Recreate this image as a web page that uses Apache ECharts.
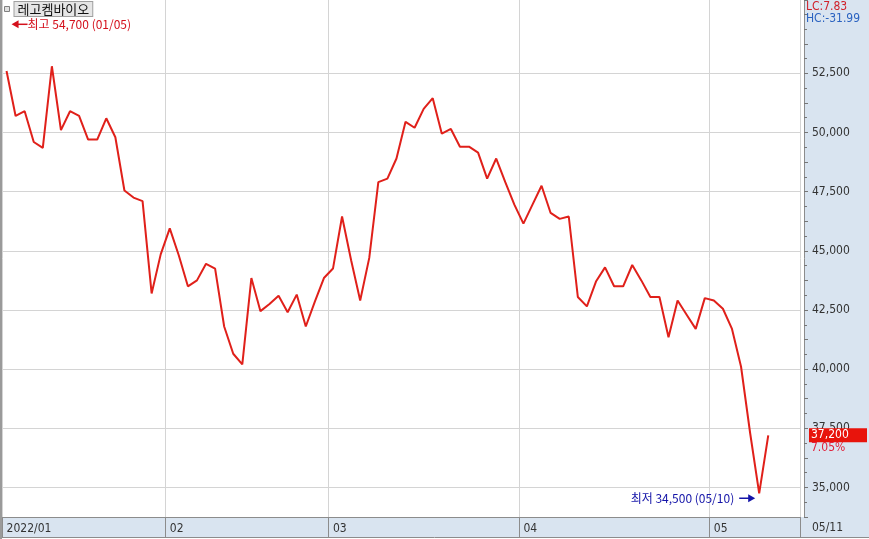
<!DOCTYPE html>
<html><head><meta charset="utf-8">
<script src="https://cdn.jsdelivr.net/npm/echarts@6/dist/echarts.min.js"></script>
<style>html,body{margin:0;padding:0;background:#fff}#c{width:869px;height:539px}</style>
</head><body><div id="c"></div>
<script>
const seriesName = '레고켐바이오';
const year = '2022';
const dates = [
 '01/05','01/06','01/07','01/10','01/11','01/12','01/13','01/14','01/17','01/18','01/19','01/20','01/21','01/24','01/25','01/26','01/27','01/28',
 '02/03','02/04','02/07','02/08','02/09','02/10','02/11','02/14','02/15','02/16','02/17','02/18','02/21','02/22','02/23','02/24','02/25','02/28',
 '03/02','03/03','03/04','03/07','03/08','03/10','03/11','03/14','03/15','03/16','03/17','03/18','03/21','03/22','03/23','03/24','03/25','03/28','03/29','03/30','03/31',
 '04/01','04/04','04/05','04/06','04/07','04/08','04/11','04/12','04/13','04/14','04/15','04/18','04/19','04/20','04/21','04/22','04/25','04/26','04/27','04/28','04/29',
 '05/02','05/03','05/04','05/06','05/09','05/10','05/11'
];
const closes = [
 52600,50700,50900,49600,49350,52800,50100,50900,50700,49700,49700,50600,49800,47550,47250,47100,43200,44850,
 45950,44800,43500,43750,44450,44250,41800,40650,40200,43850,42450,42750,43100,42400,43150,41800,42850,43850,
 44250,46450,44600,42900,44700,47900,48050,48900,50450,50200,51000,51450,49950,50150,49400,49400,49150,48050,48900,47900,46950,
 46150,46950,47750,46600,46350,46450,43050,42650,43700,44300,43500,43500,44400,43750,43050,43050,41350,42900,42300,41700,
 43000,42900,42550,41700,40100,37300,34750,37200
];
const yTickValues = [35000, 37500, 40000, 42500, 45000, 47500, 50000, 52500];
const padSlots = 3;
const yMin = 33750, yMax = 55600, yStep = 1250;
const highValue = 54700, highDate = '01/05';
const lowValue = 34500, lowDate = '05/10';

const fmt = v => String(v).replace(/\B(?=(\d{3})+(?!\d))/g, ',');
const NUM = "'Liberation Sans Narrow','DejaVu Sans Condensed','Liberation Sans',sans-serif";
const KR = "'Noto Sans CJK KR','Noto Sans',sans-serif";

const cats = dates.concat(Array.from({length: padSlots}, (_, k) => 'pad' + k));
const monthStart = new Set();
dates.forEach((d, i) => { if (i === 0 || d.slice(0, 2) !== dates[i - 1].slice(0, 2)) monthStart.add(i); });
const isMS = (i) => monthStart.has(i);

const chart = echarts.init(document.getElementById('c'));
chart.setOption({
  animation: false,
  backgroundColor: '#fff',
  grid: {left: 2, top: 0, width: 798, height: 517},
  legend: {
    left: 4, top: 1, padding: 0, itemWidth: 5, itemHeight: 5, icon: 'rect',
    itemStyle: {color: '#e0e0e0', borderColor: '#808080', borderWidth: 1},
    textStyle: {fontFamily: KR, fontSize: 13, color: '#111', backgroundColor: '#e6e6e6',
      borderColor: '#a0a0a0', borderWidth: 1, padding: [1, 3, 0, 3]},
    data: [seriesName]
  },
  xAxis: {
    type: 'category', data: cats, boundaryGap: true,
    axisLine: {show: true, lineStyle: {color: '#8c8c8c'}},
    axisTick: {show: true, length: 20, interval: isMS, lineStyle: {color: '#8c8c8c'}},
    splitLine: {show: true, interval: isMS, lineStyle: {color: '#d4d4d4'}},
    axisLabel: {
      interval: isMS, align: 'left', margin: 6, color: '#333', fontSize: 12, fontFamily: NUM,
      formatter: (v, i) => i === 0 ? year + '/' + v.slice(0, 2) : v.slice(0, 2)
    }
  },
  yAxis: {
    type: 'value', position: 'right', offset: 4, min: yMin, max: yMax, interval: yStep,
    axisLine: {show: true, lineStyle: {color: '#8c8c8c'}},
    axisTick: {show: true, length: 4, lineStyle: {color: '#777'}},
    minorTick: {show: true, splitNumber: 2, length: 3, lineStyle: {color: '#777'}},
    splitLine: {show: false},
    axisLabel: {margin: 8, color: '#333', fontSize: 12, fontFamily: NUM,
      formatter: v => (yTickValues.indexOf(v) >= 0 ? fmt(v) : '')}
  },
  series: [{
    name: 'grid', type: 'line', data: [], silent: true, z: 1,
    markLine: {silent: true, symbol: 'none', animation: false, label: {show: false},
      lineStyle: {color: '#d4d4d4', type: 'solid', width: 1},
      emphasis: {disabled: true},
      data: yTickValues.map(v => ({yAxis: v}))}
  }, {
    name: seriesName, type: 'line', data: closes, symbol: 'none',
    lineStyle: {color: '#e0201a', width: 2}, itemStyle: {color: '#e0201a'}, z: 5
  }]
});

const last = closes[closes.length - 1];
const prev = closes[closes.length - 2];
const lowIdx = closes.indexOf(Math.min.apply(null, closes));
const pHigh = chart.convertToPixel({gridIndex: 0}, [0, highValue]);
const pLow = chart.convertToPixel({gridIndex: 0}, [lowIdx, lowValue]);
const pLast = chart.convertToPixel({gridIndex: 0}, [closes.length - 1, last]);
const gridRight = 2 + 798 + 4;
const LC = ((last / lowValue - 1) * 100).toFixed(2);
const HC = ((last / highValue - 1) * 100).toFixed(2);
const CHG = ((last / prev - 1) * 100).toFixed(2);
const red = '#d4101c', blue = '#1414a8';
const hy = pHigh[1] + 3, ly = pLow[1] - 1, hx = pHigh[0] + 4, lx = pLow[0] - 4;

chart.setOption({
  graphic: [
    {type: 'rect', z: -10, silent: true, shape: {x: gridRight, y: 0, width: 869 - gridRight, height: 537}, style: {fill: '#d9e4f0'}},
    {type: 'rect', z: -10, silent: true, shape: {x: 0, y: 517, width: 869, height: 20}, style: {fill: '#d9e4f0'}},
    {type: 'line', z: 1, silent: true, shape: {x1: 0, y1: 537.5, x2: 869, y2: 537.5}, style: {stroke: '#8c8c8c', lineWidth: 1}},
    {type: 'rect', z: 10, silent: true, shape: {x: 0, y: 0, width: 2, height: 539}, style: {fill: '#9a9a9a'}},
    {type: 'polygon', z: 10, silent: true, shape: {points: [[hx + 1, hy], [hx + 8, hy - 4], [hx + 8, hy + 4]]}, style: {fill: red}},
    {type: 'line', z: 10, silent: true, shape: {x1: hx + 7, y1: hy, x2: hx + 17, y2: hy}, style: {stroke: red, lineWidth: 1.5}},
    {type: 'text', z: 10, silent: true, x: hx + 17, y: hy, style: {text: '최고 ' + fmt(highValue) + ' (' + highDate + ')', fill: red, font: '12px ' + KR, textVerticalAlign: 'middle', verticalAlign: 'middle'}},
    {type: 'polygon', z: 10, silent: true, shape: {points: [[lx, ly], [lx - 7, ly - 4], [lx - 7, ly + 4]]}, style: {fill: blue}},
    {type: 'line', z: 10, silent: true, shape: {x1: lx - 16, y1: ly, x2: lx - 6, y2: ly}, style: {stroke: blue, lineWidth: 1.5}},
    {type: 'text', z: 10, silent: true, x: lx - 21, y: ly, style: {text: '최저 ' + fmt(lowValue) + ' (' + lowDate + ')', fill: blue, font: '12px ' + KR, align: 'right', textAlign: 'right', verticalAlign: 'middle', textVerticalAlign: 'middle'}},
    {type: 'text', z: 10, silent: true, x: 806, y: 1, style: {text: 'LC:' + LC, fill: '#d0202a', font: '12px ' + NUM}},
    {type: 'text', z: 10, silent: true, x: 806, y: 13, style: {text: 'HC:' + HC, fill: '#2a62c0', font: '12px ' + NUM}},
    {type: 'rect', z: 10, silent: true, shape: {x: 809, y: pLast[1] - 7, width: 58, height: 14}, style: {fill: '#e8140c'}},
    {type: 'text', z: 11, silent: true, x: 811, y: pLast[1], style: {text: fmt(last), fill: '#fff', font: '12px ' + NUM, verticalAlign: 'middle', textVerticalAlign: 'middle'}},
    {type: 'text', z: 11, silent: true, x: 811, y: pLast[1] + 7, style: {text: CHG + '%', fill: '#e0203a', font: '12px ' + NUM}},
    {type: 'text', z: 11, silent: true, x: 812, y: 527.5, style: {text: dates[dates.length - 1], fill: '#333', font: '12px ' + NUM, verticalAlign: 'middle', textVerticalAlign: 'middle'}}
  ]
});
</script></body></html>
